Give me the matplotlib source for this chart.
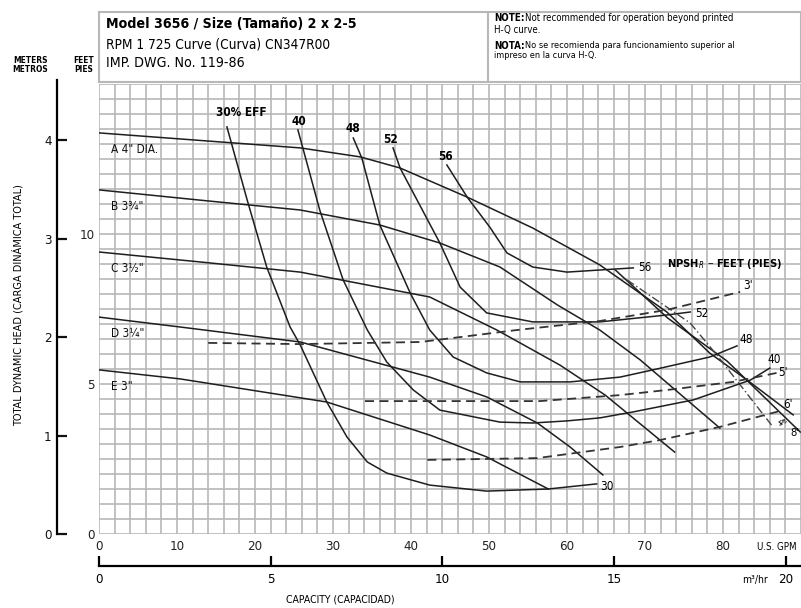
import numpy as np
import matplotlib
matplotlib.use("Agg")
import matplotlib.pyplot as plt

plt.rcParams['font.family'] = ['DejaVu Sans']
plt.rcParams['font.stretch'] = 'condensed'

# impeller head curves (US GPM, feet)
gpm_a = [0, 12.9, 25.8, 33.5, 38.6, 47.2, 55.6, 64.2, 72.8, 78.3, 83.1, 89.0]
ft_a = [13.37, 13.12, 12.87, 12.57, 12.2, 11.23, 10.2, 8.97, 7.4, 6.03, 5.13, 3.97]
gpm_b = [0, 12.9, 25.8, 36.0, 43.7, 51.4, 58.8, 64.2, 69.4, 79.6]
ft_b = [11.47, 11.13, 10.8, 10.3, 9.7, 8.9, 7.63, 6.8, 5.8, 3.53]
gpm_c = [0, 12.9, 25.8, 42.4, 51.0, 59.1, 64.9, 73.8]
ft_c = [9.4, 9.07, 8.73, 7.9, 6.8, 5.63, 4.63, 2.73]
gpm_d = [0, 10.4, 25.8, 42.4, 49.7, 56.2, 60.4, 64.6]
ft_d = [7.23, 6.9, 6.4, 5.23, 4.57, 3.7, 2.9, 1.97]
gpm_e = [0, 10.4, 29.2, 42.4, 49.7, 57.6]
ft_e = [5.47, 5.17, 4.4, 3.3, 2.57, 1.5]
imp_labels = ['A 4" DIA.', 'B 3¾"', 'C 3½"', 'D 3¼"', 'E 3"']

# extra end-of-curve lines near A
gpm_a2 = [66.2, 72.9, 80.5, 89.9]
ft_a2 = [8.8, 7.2, 5.77, 3.4]
gpm_dd = [67.7, 75.8, 79.2, 86.4]
ft_dd = [8.47, 7.03, 5.97, 3.57]

# efficiency curves
gpm_e30 = [16.4, 19.0, 21.5, 24.5, 25.8, 29.2, 31.8, 34.4, 36.9, 42.4, 49.7, 57.6, 63.8]
ft_e30 = [13.57, 11.13, 8.9, 6.9, 6.3, 4.4, 3.23, 2.4, 2.03, 1.63, 1.43, 1.5, 1.67]
gpm_e40 = [25.5, 28.3, 31.3, 34.4, 36.9, 40.3, 43.7, 51.4, 55.6, 60.0, 64.2, 68.5, 76.2, 83.5, 86.0]
ft_e40 = [13.47, 10.8, 8.47, 6.8, 5.73, 4.8, 4.13, 3.73, 3.7, 3.77, 3.87, 4.07, 4.47, 5.13, 5.53]
gpm_e48 = [32.6, 33.7, 36.0, 39.9, 42.4, 45.4, 49.7, 54.0, 60.4, 66.8, 71.0, 78.3, 81.8]
ft_e48 = [13.2, 12.53, 10.3, 8.03, 6.8, 5.9, 5.37, 5.07, 5.07, 5.23, 5.47, 5.9, 6.27]
gpm_e52 = [37.7, 38.6, 43.7, 46.3, 49.7, 55.6, 64.2, 72.8, 75.8]
ft_e52 = [12.87, 12.2, 9.7, 8.23, 7.37, 7.07, 7.07, 7.3, 7.4]
gpm_e56 = [44.6, 47.2, 50.1, 52.3, 55.6, 60.0, 64.2, 68.5]
ft_e56 = [12.3, 11.23, 10.23, 9.37, 8.9, 8.73, 8.8, 8.87]

# NPSHr lines
gpm_n3 = [14.0, 25.8, 41.2, 53.6, 64.2, 72.8, 82.2]
ft_n3 = [6.37, 6.33, 6.4, 6.8, 7.1, 7.47, 8.07]
gpm_n5 = [34.1, 56.5, 66.8, 72.8, 81.3, 86.9]
ft_n5 = [4.43, 4.43, 4.63, 4.8, 5.07, 5.37]
gpm_n6 = [42.1, 56.2, 66.8, 71.9, 79.6, 87.3]
ft_n6 = [2.47, 2.53, 2.9, 3.13, 3.57, 4.1]

gpm_ticks = [0, 10, 20, 30, 40, 50, 60, 70, 80]
ft_ticks = [0, 5, 10]
m_ticks = [0, 1, 2, 3, 4]
m3h_ticks = [0, 5, 10, 15, 20]

W, H = 801, 608


def px(x, y):
    return x / W, 1 - y / H


fig = plt.figure(figsize=(W / 100, H / 100), dpi=100)

ax = fig.add_axes([99 / W, 74 / H, 702 / W, 450 / H])
ax.set_xlim(0, 90)
ax.set_ylim(0, 15)
ax.set_xticks(gpm_ticks)
ax.set_xticks(np.arange(0, 91, 2), minor=True)
ax.set_yticks(ft_ticks)
ax.set_yticks(np.arange(0, 15.01, 0.5), minor=True)
ax.grid(which='both', color='#b8b8b8', lw=1.2)
ax.tick_params(which='both', length=0, labelsize=9.5, colors='#222222')
ax.tick_params(axis='x', pad=4)
ax.tick_params(axis='y', pad=3)
for s in ax.spines.values():
    s.set_visible(False)
ax.set_axisbelow(True)

lc = '#1e1e1e'
for g, f in [(gpm_a, ft_a), (gpm_b, ft_b), (gpm_c, ft_c), (gpm_d, ft_d), (gpm_e, ft_e),
             (gpm_a2, ft_a2)]:
    ax.plot(g, f, color=lc, lw=1.1)
ax.plot(gpm_dd, ft_dd, color='#444444', lw=1.0, ls=(0, (6, 2, 1, 2)))

for g, f in [(gpm_e30, ft_e30), (gpm_e40, ft_e40), (gpm_e48, ft_e48),
             (gpm_e52, ft_e52), (gpm_e56, ft_e56)]:
    ax.plot(g, f, color=lc, lw=1.1)

for g, f in [(gpm_n3, ft_n3), (gpm_n5, ft_n5), (gpm_n6, ft_n6)]:
    ax.plot(g, f, color='#333333', lw=1.3, ls=(0, (5, 3)))

# impeller labels at left
for lab, f in zip(imp_labels, [ft_a, ft_b, ft_c, ft_d, ft_e]):
    ax.text(1.6, f[0] - 0.55, lab, fontsize=8.5, ha='left', va='center', color='#111111')

# efficiency labels
ax.text(18.3, 14.05, '30% EFF', fontsize=8.5, weight='bold', ha='center', va='center')
ax.text(25.6, 13.75, '40', fontsize=8.5, weight='bold', ha='center', va='center')
ax.text(32.5, 13.5, '48', fontsize=8.5, weight='bold', ha='center', va='center')
ax.text(37.4, 13.15, '52', fontsize=8.5, weight='bold', ha='center', va='center')
ax.text(44.4, 12.6, '56', fontsize=8.5, weight='bold', ha='center', va='center')
ax.text(gpm_e56[-1] + 0.6, ft_e56[-1], '56', fontsize=8.5, ha='left', va='center')
ax.text(gpm_e52[-1] + 0.6, ft_e52[-1] - 0.05, '52', fontsize=8.5, ha='left', va='center')
ax.text(gpm_e48[-1] + 0.3, ft_e48[-1] + 0.2, '48', fontsize=8.5, ha='left', va='center')
ax.text(gpm_e40[-1] - 0.3, ft_e40[-1] + 0.3, '40', fontsize=8.5, ha='left', va='center')
ax.text(gpm_e30[-1] + 0.4, ft_e30[-1] - 0.1, '30', fontsize=8.5, ha='left', va='center')
ax.text(gpm_n3[-1] + 0.4, ft_n3[-1] + 0.2, "3'", fontsize=8.5, ha='left', va='center')
ax.text(gpm_n5[-1] + 0.2, ft_n5[-1], "5'", fontsize=8.5, ha='left', va='center')
ax.text(gpm_n6[-1] + 0.4, ft_n6[-1] + 0.2, "6'", fontsize=8.5, ha='left', va='center')
ax.text(86.6, 3.7, "4'", fontsize=7.5, ha='left', va='center', rotation=-40)
ax.text(88.6, 3.35, "8'", fontsize=8, ha='left', va='center')
ax.text(72.8, 9.0, 'NPSH$_R$ – FEET (PIES)', fontsize=8, weight='bold', ha='left', va='center')

# meters axis
axm = fig.add_axes([57 / W, 74 / H, 0.0001, 454 / H])
axm.set_ylim(0, 15.13 / 3.28084)
axm.set_yticks(m_ticks)
axm.set_xticks([])
axm.patch.set_visible(False)
for k in ['top', 'right', 'bottom']:
    axm.spines[k].set_visible(False)
axm.spines['left'].set_linewidth(1.6)
axm.tick_params(axis='y', direction='in', length=7, width=1.6, labelsize=9.5, pad=4,
                colors='#111111')

# m3/hr axis
axq = fig.add_axes([99 / W, 42 / H, 702 / W, 0.0001])
axq.set_xlim(0, 90 / 4.4029)
axq.set_xticks(m3h_ticks)
axq.set_yticks([])
axq.patch.set_visible(False)
for k in ['top', 'right', 'left']:
    axq.spines[k].set_visible(False)
axq.spines['bottom'].set_linewidth(1.6)
axq.tick_params(axis='x', direction='in', length=7, width=1.6, labelsize=9.5, pad=5)

# header box
hdr = fig.add_axes([99 / W, 1 - 82 / H, 702 / W, 70 / H])
hdr.set_xticks([])
hdr.set_yticks([])
for s in hdr.spines.values():
    s.set_color('#b8b8b8')
    s.set_linewidth(1.5)
hdr.axvline((488 - 99) / 702, color='#b8b8b8', lw=1.5)

fig.text(*px(106, 24), 'Model 3656 / Size (Tamaño) 2 x 2-5', fontsize=10.2, weight='bold',
         va='center', ha='left')
fig.text(*px(106, 44), 'RPM 1 725 Curve (Curva) CN347R00', fontsize=9.8, va='center', ha='left')
fig.text(*px(106, 63), 'IMP. DWG. No. 119-86', fontsize=10.2, va='center', ha='left')

fig.text(*px(494, 18), 'NOTE:', fontsize=7, weight='bold', va='center', ha='left')
fig.text(*px(525, 18), 'Not recommended for operation beyond printed', fontsize=6.9,
         va='center', ha='left')
fig.text(*px(494, 30), 'H-Q curve.', fontsize=6.9, va='center', ha='left')
fig.text(*px(494, 46), 'NOTA:', fontsize=7, weight='bold', va='center', ha='left')
fig.text(*px(525, 46), 'No se recomienda para funcionamiento superior al', fontsize=6.6,
         va='center', ha='left')
fig.text(*px(494, 56), 'impreso en la curva H-Q.', fontsize=6.6, va='center', ha='left')

fig.text(*px(30, 65), 'METERS\nMETROS', fontsize=6, weight='bold', ha='center', va='center',
         linespacing=1.0)
fig.text(*px(84, 65), 'FEET\nPIES', fontsize=6, weight='bold', ha='center', va='center',
         linespacing=1.0)
fig.text(*px(18, 305), 'TOTAL DYNAMIC HEAD (CARGA DINÁMICA TOTAL)', fontsize=7.8,
         rotation=90, ha='center', va='center')
fig.text(*px(777, 547), 'U.S. GPM', fontsize=7, ha='center', va='center')
fig.text(*px(768, 580), 'm³/hr', fontsize=7.5, ha='right', va='center')
fig.text(*px(340, 600), 'CAPACITY (CAPACIDAD)', fontsize=7.5, ha='center', va='center')

fig.savefig('out.png', dpi=100)
